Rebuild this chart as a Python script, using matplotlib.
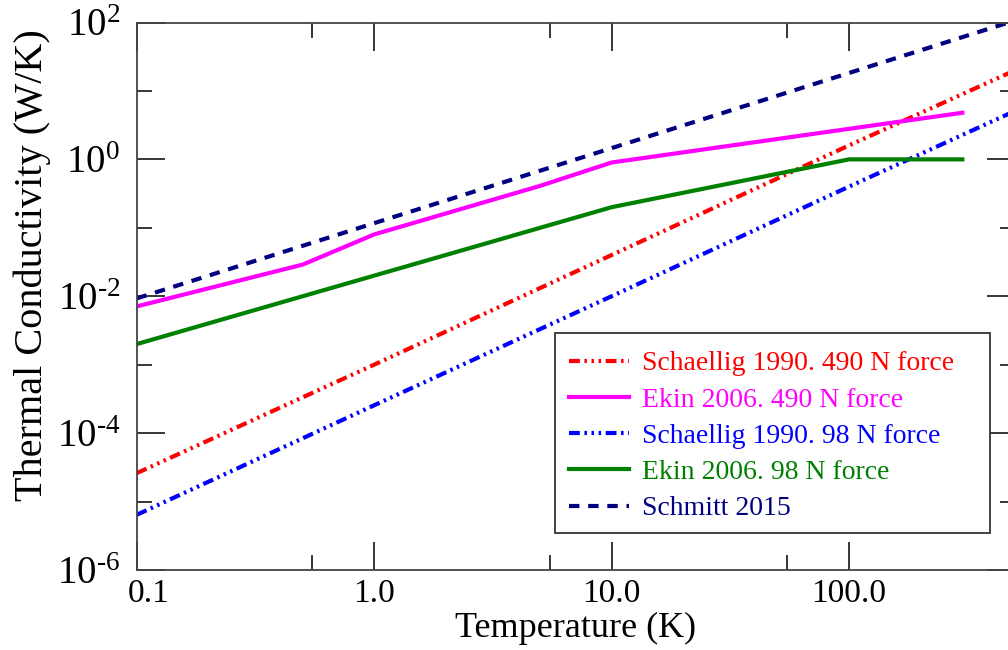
import matplotlib
matplotlib.use("Agg")
import matplotlib.pyplot as plt
from matplotlib.ticker import FixedLocator, FixedFormatter, NullFormatter
from matplotlib.transforms import ScaledTranslation
from matplotlib.patches import Rectangle

plt.rcParams['font.family'] = ['Liberation Serif', 'DejaVu Serif']
plt.rcParams['mathtext.fontset'] = 'custom'
plt.rcParams['mathtext.rm'] = 'Liberation Serif'
plt.rcParams['mathtext.it'] = 'Liberation Serif:italic'

# ---- data ----
T_schaellig = [0.1, 1.0, 10.0, 100.0, 500.0]
k_schaellig_490 = [2.6e-5, 1.0e-3, 0.040, 1.6, 20.0]
k_schaellig_98 = [6.4e-6, 2.55e-4, 0.0100, 0.40, 5.1]

T_ekin_490 = [0.1, 0.5, 1.0, 5.0, 10.0, 300.0]
k_ekin_490 = [0.0071, 0.029, 0.080, 0.41, 0.90, 4.8]

T_ekin_98 = [0.1, 10.0, 100.0, 300.0]
k_ekin_98 = [0.002, 0.20, 1.0, 1.0]

T_schmitt = [0.1, 1.0, 10.0, 100.0, 500.0]
k_schmitt = [0.0093, 0.117, 1.46, 18.3, 107.0]

labels = ["Schaellig 1990. 490 N force", "Ekin 2006. 490 N force",
          "Schaellig 1990. 98 N force", "Ekin 2006. 98 N force", "Schmitt 2015"]
colors = ["#ff0000", "#ff00ff", "#0000ff", "#008000", "#000080"]

xticks = [0.1, 1.0, 10.0, 100.0]
xticklabels = ["0.1", "1.0", "10.0", "100.0"]
xminor = [0.55, 5.5, 55.0, 550.0]
yticks = [1e-6, 1e-4, 1e-2, 1e0, 1e2]
yticklabels = [r"$\mathregular{10^{\text{-}6}}$", r"$\mathregular{10^{\text{-}4}}$",
               r"$\mathregular{10^{\text{-}2}}$", r"$\mathregular{10^{0}}$", r"$\mathregular{10^{2}}$"]
yminor = [1e-5, 1e-3, 1e-1, 1e1]

# ---- figure ----
fig = plt.figure(figsize=(10.08, 6.5), dpi=100)
ax = fig.add_axes([136.7 / 1008, 1 - 570 / 650, (1015 - 136.7) / 1008, (570 - 22.5) / 650])

dashdotdot = (0, (2.6, 1.1, 0.6, 1.1, 0.6, 1.1, 0.6, 1.1))
lw = 3
ax.plot(T_schaellig, k_schaellig_490, color=colors[0], lw=lw, ls=dashdotdot, label=labels[0])
ax.plot(T_ekin_490, k_ekin_490, color=colors[1], lw=lw, ls='-', label=labels[1])
ax.plot(T_schaellig, k_schaellig_98, color=colors[2], lw=lw, ls=dashdotdot, label=labels[2])
ax.plot(T_ekin_98, k_ekin_98, color=colors[3], lw=lw, ls='-', label=labels[3])
ax.plot(T_schmitt, k_schmitt, color=colors[4], lw=lw, ls=(0, (2.5, 2.1)), label=labels[4])

ax.set_xscale('log')
ax.set_yscale('log')
ax.set_xlim(0.1, 500)
ax.set_ylim(1e-6, 1e2)

ax.xaxis.set_major_locator(FixedLocator(xticks))
ax.xaxis.set_major_formatter(FixedFormatter(xticklabels))
ax.xaxis.set_minor_locator(FixedLocator(xminor))
ax.xaxis.set_minor_formatter(NullFormatter())
ax.yaxis.set_major_locator(FixedLocator(yticks))
ax.yaxis.set_major_formatter(FixedFormatter(yticklabels))
ax.yaxis.set_minor_locator(FixedLocator(yminor))
ax.yaxis.set_minor_formatter(NullFormatter())

ax.tick_params(which='both', direction='in', top=True, right=True, width=1.1, color='black')
ax.tick_params(which='major', length=20)
ax.tick_params(axis='x', which='major', pad=6, labelsize=24)
ax.tick_params(axis='y', which='major', pad=12, labelsize=28)
ax.tick_params(which='minor', length=10.5)

for s in ax.spines.values():
    s.set_color('#444444')
    s.set_linewidth(1.3)

# shift the "0.1" label right as in the reference
lbl0 = ax.xaxis.get_majorticklabels()[0]
lbl0.set_transform(lbl0.get_transform() + ScaledTranslation(12 / 100, 0, fig.dpi_scale_trans))

ax.set_xlabel("Temperature (K)", fontsize=26, labelpad=2)
ax.set_ylabel("Thermal Conductivity (W/K)", fontsize=29, labelpad=6)
ax.yaxis.set_label_coords(-0.098, (570 - 265) / 547.5)

# legend (frame drawn separately to match the reference box)
box = Rectangle((555 / 1008, 1 - 533 / 650), (990 - 555) / 1008, 200 / 650,
                transform=fig.transFigure, facecolor='white',
                edgecolor='#333333', linewidth=1.3, zorder=4, clip_on=False)
ax.add_patch(box)
leg = ax.legend(loc='upper left', bbox_to_anchor=(555 / 1008, 1 - 337 / 650),
                bbox_transform=fig.transFigure, fontsize=20, frameon=False,
                handlelength=2.15, handletextpad=0.5, labelspacing=0.39, borderpad=0.5,
                borderaxespad=0)
leg.set_zorder(10)
for txt, c in zip(leg.get_texts(), colors):
    txt.set_color(c)

fig.savefig("out.png", dpi=100)
